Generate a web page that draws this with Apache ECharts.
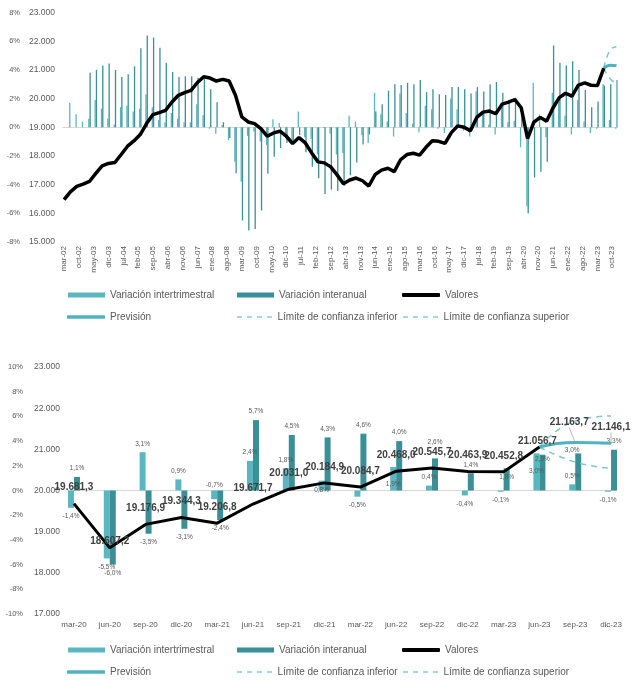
<!DOCTYPE html>
<html><head><meta charset="utf-8">
<script src="https://cdn.jsdelivr.net/npm/echarts@6/dist/echarts.min.js"></script>
<style>html,body{margin:0;padding:0;background:#fff}#c{width:632px;height:687px}</style>
</head><body><div id="c"></div>
<script>
// ---------- DATA ----------
const monthNames = ['ene','feb','mar','abr','may','jun','jul','ago','sep','oct','nov','dic'];
// Quarterly series, mar-02 ... dic-23 (88 quarters)
const valores = [
16480,16750,16937,17017,
17110,17390,17654,17737,
17772,18050,18339,18523,
18746,19128,19441,19511,
19591,19880,20113,20207,
20287,20560,20760,20715,
20610,20669,20610,20113,
19358,19184,19128,18954,
18687,18802,18861,18687,
18433,18641,18453,18106,
17793,17758,17619,17340,
17030,17161,17230,17135,
16951,17353,17504,17569,
17455,17867,18049,18094,
18030,18301,18528,18508,
18438,18813,19049,18998,
18874,19344,19528,19565,
19471,19805,19874,19967,
19681.3,18607.2,19176.9,19344.3,
19206.8,19671.7,20031.0,20184.9,
20084.7,20468.0,20545.7,20463.9,
20452.8,21056.7,null,null];
const varIntertrimestral = [
null,1.7,0.9,0.4,
0.6,1.9,1.3,0.6,
0.2,1.4,1.5,1.1,
1.3,2.3,1.4,0.5,
0.35,1.0,0.6,0.35,
0.35,1.6,0.85,-0.1,
-0.45,0.15,-0.9,-2.4,
-3.8,-0.6,-0.3,-1.0,
-1.25,0.55,0.3,-0.45,
-1.05,1.1,-0.7,-0.8,
-1.9,-0.05,-0.45,-1.9,
-1.8,0.8,0.4,-0.55,
-1.1,2.4,0.9,0.4,
-0.65,2.35,1.0,0.25,
-0.35,1.5,1.25,-0.1,
-0.4,2.0,1.25,-0.25,
-0.65,2.5,0.95,0.2,
-0.5,1.7,0.35,0.45,
-1.4,-5.5,3.1,0.9,
-0.7,2.4,1.8,0.8,
-0.5,1.9,0.4,-0.4,
-0.1,3.0,0.5,-0.1];
const varInteranual = [
null,null,null,null,
3.8,4.0,4.3,4.45,
4.0,3.5,3.7,4.25,
5.5,6.4,6.25,5.55,
4.5,3.85,3.5,3.55,
3.55,3.45,3.4,2.65,
1.75,0.35,-0.75,-3.2,
-6.5,-7.2,-7.1,-5.8,
-3.25,-2.05,-1.45,-1.1,
-0.9,-0.55,-1.75,-2.75,
-3.55,-4.65,-4.35,-4.45,
-4.1,-3.35,-2.45,-1.2,
-0.5,1.1,1.6,2.55,
3.0,2.95,3.1,3.0,
3.3,2.45,2.65,2.3,
2.25,2.8,2.8,2.65,
2.35,2.8,2.5,3.0,
3.15,2.4,1.75,2.05,
1.1,-6.0,-3.5,-3.1,
-2.4,5.7,4.5,4.3,
4.6,4.0,2.6,1.4,
1.8,2.9,3.0,3.3];
// forecast: jun-23, sep-23, dic-23
const prevision = [21056.7, 21163.7, 21146.1];
const limiteInferior = [21056.7, 20690, 20540];
const limiteSuperior = [21056.7, 21690, 21810];
// axis ticks
const topValTicks = {min:15000, max:23000, step:1000};
const topPctTicks = {min:-8, max:8, step:2};
const botValTicks = {min:17000, max:23000, step:1000};
const botPctTicks = {min:-10, max:10, step:2};
const topStart = {year:2002, month:2}; // mar-02
const botStartQuarter = 72;            // mar-20

// ---------- HELPERS ----------
const FONT = "'Liberation Sans', Arial, sans-serif";
const C_LIGHT = '#5AB7C1', C_DARK = '#3B8F96', C_PREV = '#4FB3BF', C_LIM = '#7CC9D1';
const CLEAR = 'rgba(0,0,0,0)';
function fmtNum(v, dec) {
  let s = Math.abs(v).toFixed(dec);
  let [i, d] = s.split('.');
  i = i.replace(/\B(?=(\d{3})+(?!\d))/g, '.');
  return (v < 0 ? '-' : '') + i + (d ? ',' + d : '');
}
function months(y0, m0, n) {
  const out = [];
  for (let k = 0; k < n; k++) {
    const m = (m0 + k) % 12, y = y0 + Math.floor((m0 + k) / 12);
    out.push(monthNames[m] + '-' + String(y % 100).padStart(2, '0'));
  }
  return out;
}
function toMonthly(q, n, offsetQ) {
  const arr = new Array(n).fill(null);
  q.forEach((v, i) => { const idx = (i + offsetQ) * 3; if (idx >= 0 && idx < n) arr[idx] = v; });
  return arr;
}
const nTop = valores.length * 3 - 2; // 262
const topCats = months(topStart.year, topStart.month, nTop);
const nBot = (valores.length - botStartQuarter) * 3 - 2; // 46
const botCats = months(2020, 2, nBot);
const fq = valores.length - 3; // index of jun-23 quarter (85)

// top chart monthly arrays
const tQoq = toMonthly(varIntertrimestral, nTop, 0);
const tYoy = toMonthly(varInteranual, nTop, 0);
const tVal = toMonthly(valores, nTop, 0);
const tPrev = toMonthly(prevision, nTop, fq);
const tInf = toMonthly(limiteInferior, nTop, fq);
const tSup = toMonthly(limiteSuperior, nTop, fq);

// bottom chart
const bQoqQ = varIntertrimestral.slice(botStartQuarter);
const bYoyQ = varInteranual.slice(botStartQuarter);
const bValQ = valores.slice(botStartQuarter);
const bfq = fq - botStartQuarter; // 13
const qoqFix = {4:{position:'top',distance:2}, 7:{position:'bottom',distance:-4}, 9:{position:'bottom',distance:-10}, 13:{position:'bottom',distance:-23}};
const yoyFix = {10:{position:'top',distance:13}, 12:{position:'insideTop',distance:5}, 13:{position:'insideTop',distance:1}, 14:{position:'top',distance:0,offset:[-6,0]}};
function barData(q, fix) {
  const arr = new Array(nBot).fill(null);
  q.forEach((v, i) => {
    if (v == null) return;
    const lab = Object.assign({position: v >= 0 ? 'top' : 'bottom', distance: 5}, fix[i] || {});
    arr[i * 3] = {value: v, label: lab};
  });
  return arr;
}
const bQoq = barData(bQoqQ, qoqFix);
const bYoy = barData(bYoyQ, yoyFix);
const valFix = {1:{distance:1}, 13:{distance:0, offset:[-2,0]}};
const bVal = new Array(nBot).fill(null);
bValQ.forEach((v, i) => { if (v == null) return; bVal[i*3] = {value: v, label: Object.assign({show:true}, valFix[i] || {})}; });
const bPrev = new Array(nBot).fill(null);
prevision.forEach((v, i) => {
  const item = {value: v, label: {show: i > 0}};
  bPrev[(bfq + i) * 3] = item;
});
const bInf = toMonthly(limiteInferior, nBot, bfq);
const bSup = toMonthly(limiteSuperior, nBot, bfq);
const leaderIdx = (bfq + 1) * 3; // sep-23 label moved with leader line

// ---------- CHART ----------
const chart = echarts.init(document.getElementById('c'), null, {renderer:'canvas'});
const axLbl = {color:'#595959', fontFamily: FONT};
function yVal(grid, t, fs) {
  return {type:'value', gridIndex:grid, position:'left', min:t.min, max:t.max, interval:t.step,
    axisLine:{show:false}, axisTick:{show:false}, splitLine:{show:false},
    axisLabel:Object.assign({fontSize:fs, margin:8, formatter:v=>fmtNum(v,0)}, axLbl)};
}
function yPct(grid, t, off, fs) {
  return {type:'value', gridIndex:grid, position:'left', offset:off, min:t.min, max:t.max, interval:t.step,
    axisLine:{show:false}, axisTick:{show:false}, splitLine:{show:false},
    axisLabel:Object.assign({fontSize:fs, margin:8, formatter:v=>v+'%'}, axLbl)};
}
const legendBase = {orient:'horizontal', padding:0, selectedMode:false,
  textStyle:{fontSize:10, color:'#595959', fontFamily:FONT}};
const dashIcon = 'path://M0,0h5v2h-5z M10,0h5v2h-5z M20,0h5v2h-5z M30,0h5v2h-5z';
function legendsAt(y1, y2) {
  return [
    Object.assign({}, legendBase, {data:['Variación intertrimestral'], left:68, top:y1-6, icon:'rect', itemWidth:37, itemHeight:5, itemStyle:{color:C_LIGHT}}),
    Object.assign({}, legendBase, {data:['Variación interanual'], left:237, top:y1-6, icon:'rect', itemWidth:37, itemHeight:5, itemStyle:{color:C_DARK}}),
    Object.assign({}, legendBase, {data:['Valores'], left:402, top:y1-6, icon:'roundRect', itemWidth:38, itemHeight:4, itemStyle:{color:'#000'}}),
    Object.assign({}, legendBase, {data:['Previsión'], left:67, top:y2-6, icon:'roundRect', itemWidth:38, itemHeight:3.5, itemStyle:{color:C_PREV}}),
    Object.assign({}, legendBase, {data:['Límite de confianza inferior'], left:237, top:y2-6, icon:dashIcon, itemWidth:36, itemHeight:2, itemStyle:{color:'#A3D9DF'}}),
    Object.assign({}, legendBase, {data:['Límite de confianza superior'], left:403, top:y2-6, icon:dashIcon, itemWidth:36, itemHeight:2, itemStyle:{color:'#A3D9DF'}})
  ];
}
const dashLine = {color:C_LIM, width:1.5, type:[6,5]};
const valLabel = {position:'top', distance:10, fontSize:10, fontWeight:'bold', color:'#404040', fontFamily:FONT, formatter:p=>fmtNum(p.value,1)};
const option = {
  animation:false,
  backgroundColor:'#fff',
  grid:[
    {left:63, top:12.5, width:554.5, height:229.5},
    {left:68, top:367, width:549, height:247}
  ],
  legend: legendsAt(296, 318).concat(legendsAt(651, 673)),
  xAxis:[
    {type:'category', gridIndex:0, data:topCats, boundaryGap:true,
     axisLine:{lineStyle:{color:'#D9D9D9'}}, axisTick:{show:false},
     axisLabel:Object.assign({interval:6, rotate:90, fontSize:8, margin:4}, axLbl)},
    {type:'category', gridIndex:1, data:botCats, boundaryGap:true,
     axisLine:{lineStyle:{color:'#D9D9D9'}}, axisTick:{show:false},
     axisLabel:Object.assign({interval:2, fontSize:8, margin:7}, axLbl)}
  ],
  yAxis:[
    yVal(0, topValTicks, 8.5), yPct(0, topPctTicks, 35, 7.5),
    yVal(1, botValTicks, 8.5), yPct(1, botPctTicks, 37, 7.5)
  ],
  series:[
    {name:'Variación intertrimestral', type:'bar', xAxisIndex:0, yAxisIndex:1, data:tQoq, barWidth:1.3, barGap:'0%', itemStyle:{color:C_LIGHT}},
    {name:'Variación interanual', type:'bar', xAxisIndex:0, yAxisIndex:1, data:tYoy, barWidth:1.3, barGap:'0%', itemStyle:{color:C_DARK}},
    {name:'Valores', type:'line', xAxisIndex:0, yAxisIndex:0, data:tVal, connectNulls:true, symbol:'none', lineStyle:{color:'#000', width:3.5}, itemStyle:{color:'#000'}, z:5},
    {name:'Previsión', type:'line', xAxisIndex:0, yAxisIndex:0, data:tPrev, connectNulls:true, smooth:0.5, symbol:'none', lineStyle:{color:C_PREV, width:3}, itemStyle:{color:C_PREV}, z:4},
    {name:'Límite de confianza inferior', type:'line', xAxisIndex:0, yAxisIndex:0, data:tInf, connectNulls:true, smooth:0.5, symbol:'none', lineStyle:dashLine, itemStyle:{color:C_LIM}, z:3},
    {name:'Límite de confianza superior', type:'line', xAxisIndex:0, yAxisIndex:0, data:tSup, connectNulls:true, smooth:0.5, symbol:'none', lineStyle:dashLine, itemStyle:{color:C_LIM}, z:3},

    {name:'Variación intertrimestral', type:'bar', xAxisIndex:1, yAxisIndex:3, data:bQoq, barWidth:6, barGap:'0%', itemStyle:{color:C_LIGHT},
     label:{show:true, fontSize:6.5, color:'#595959', fontFamily:FONT, formatter:p=>fmtNum(p.value,1)+'%'}},
    {name:'Variación interanual', type:'bar', xAxisIndex:1, yAxisIndex:3, data:bYoy, barWidth:6, barGap:'0%', itemStyle:{color:C_DARK},
     label:{show:true, fontSize:6.5, color:'#595959', fontFamily:FONT, formatter:p=>fmtNum(p.value,1)+'%'}},
    {name:'Valores', type:'line', xAxisIndex:1, yAxisIndex:2, data:bVal, connectNulls:true, symbol:'circle', symbolSize:2, showSymbol:true, showAllSymbol:true,
     lineStyle:{color:'#000', width:3}, itemStyle:{color:CLEAR, borderWidth:0}, z:5, label:valLabel},
    {name:'Previsión', type:'line', xAxisIndex:1, yAxisIndex:2, data:bPrev, connectNulls:true, smooth:0.5, symbol:'circle', symbolSize:2, showSymbol:true, showAllSymbol:true,
     lineStyle:{color:C_PREV, width:3}, itemStyle:{color:CLEAR, borderWidth:0}, z:4, label:valLabel,
     labelLayout:function(p){ return p.dataIndex === leaderIdx ? {dx:-6, dy:-4} : {}; },
     labelLine:{show:true, lineStyle:{color:'#A6A6A6', width:0.8}, length2:0}},
    {name:'Límite de confianza inferior', type:'line', xAxisIndex:1, yAxisIndex:2, data:bInf, connectNulls:true, smooth:0.5, symbol:'none', lineStyle:dashLine, itemStyle:{color:C_LIM}, z:3},
    {name:'Límite de confianza superior', type:'line', xAxisIndex:1, yAxisIndex:2, data:bSup, connectNulls:true, smooth:0.5, symbol:'none', lineStyle:dashLine, itemStyle:{color:C_LIM}, z:3}
  ]
};
chart.setOption(option);
</script>
</body></html>
